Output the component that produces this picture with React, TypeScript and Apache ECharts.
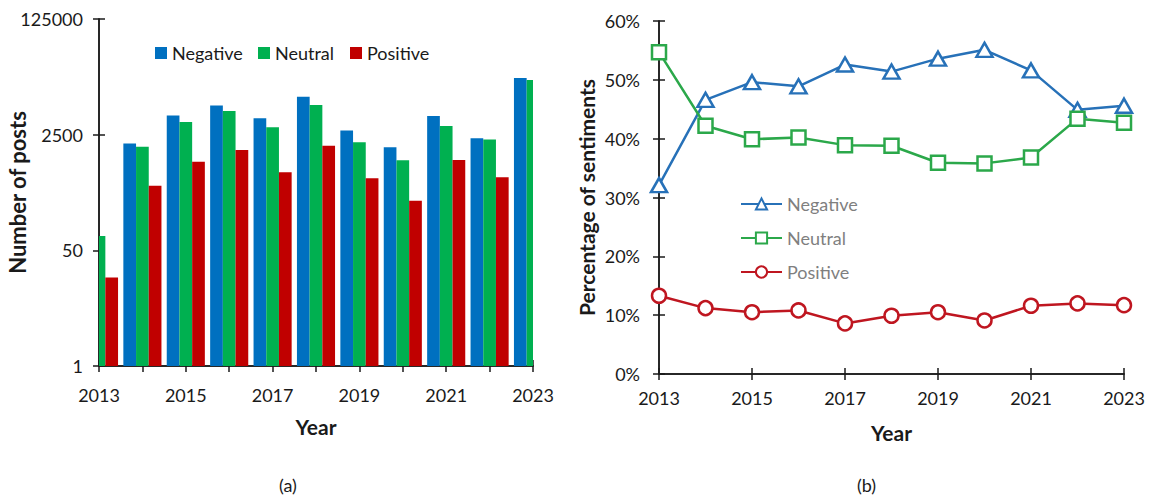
import React, { useEffect, useRef } from "react";
import * as echarts from "echarts";

// Years shown on both panels
const years = ["2013", "2014", "2015", "2016", "2017", "2018", "2019", "2020", "2021", "2022", "2023"];

// Panel (a): number of posts per sentiment (log scale, base 50)
const negativePosts = [47, 1860, 4800, 6730, 4340, 9010, 2890, 1630, 4690, 2210, 16950];
const neutralPosts = [81, 1660, 3830, 5560, 3200, 6810, 1930, 1050, 3340, 2130, 15850];
const positivePosts = [20, 444, 1000, 1490, 700, 1720, 571, 267, 1060, 590, 4350];
const postTicks = [1, 50, 2500, 125000];

// Panel (b): share of each sentiment, in percent
const negativeShare = [32.1, 46.6, 49.6, 48.9, 52.6, 51.4, 53.6, 55.1, 51.6, 44.9, 45.6];
const neutralShare = [54.7, 42.2, 39.9, 40.2, 38.9, 38.8, 35.9, 35.8, 36.8, 43.4, 42.7];
const positiveShare = [13.3, 11.2, 10.5, 10.8, 8.6, 9.9, 10.5, 9.1, 11.6, 12.0, 11.7];

const FONT = "Lato";
const INK = "#1a1a1a";
const BAR_W = 12.7;

const barColors = { Negative: "#0070C0", Neutral: "#00B050", Positive: "#C00000" };
const lineColors = { Negative: "#2771B8", Neutral: "#2BA84A", Positive: "#BF1620" };

function withTicks(base: any, inside: boolean, interval: number) {
  return {
    ...base,
    axisTick: {
      show: true,
      inside,
      length: 6,
      interval,
      alignWithLabel: true,
      lineStyle: { color: INK, width: 1.5 },
    },
  };
}

// Bars centred on each year tick; groups at the ends are cut by the plot edge
function barSeries(name: "Negative" | "Neutral" | "Positive", values: number[], slot: number) {
  return {
    name,
    type: "custom",
    xAxisIndex: 0,
    yAxisIndex: 0,
    data: values.map((v, i) => [i, v]),
    encode: { x: 0, y: 1 },
    itemStyle: { color: barColors[name] },
    renderItem: (params: any, api: any) => {
      const idx = api.value(0);
      const val = api.value(1);
      const top = api.coord([idx, val]);
      const base = api.coord([idx, 1]);
      const rect = {
        x: top[0] + (slot - 1.5) * BAR_W,
        y: top[1],
        width: BAR_W,
        height: base[1] - top[1],
      };
      const cs = params.coordSys;
      const clipped = echarts.graphic.clipRectByRect(rect, {
        x: cs.x,
        y: cs.y,
        width: cs.width,
        height: cs.height,
      });
      if (!clipped) return null;
      return { type: "rect", shape: clipped, style: { fill: barColors[name] } };
    },
  };
}

function buildBarOption(): any {
  const xBase = {
    type: "category",
    data: years,
    boundaryGap: false,
    gridIndex: 0,
    position: "bottom",
    axisLine: { show: true, lineStyle: { color: INK, width: 1.5 } },
    splitLine: { show: false },
  };
  const yBase = {
    type: "log",
    logBase: 50,
    min: 1,
    max: 125000,
    gridIndex: 0,
    position: "left",
    axisLine: { show: true, lineStyle: { color: INK, width: 1.5 } },
    splitLine: { show: false },
  };
  const legendItem = (name: string, left: number) => ({
    data: [name],
    left,
    top: 44,
    padding: 0,
    itemWidth: 12,
    itemHeight: 12,
    icon: "rect",
    selectedMode: false,
    textStyle: { fontFamily: FONT, fontSize: 18, color: INK },
  });
  return {
    animation: false,
    grid: { left: 99, top: 19, width: 434, height: 347, containLabel: false, outerBoundsMode: "none" },
    legend: [legendItem("Negative", 155), legendItem("Neutral", 258), legendItem("Positive", 350)],
    xAxis: [
      withTicks(
        {
          ...xBase,
          name: "Year",
          nameLocation: "middle",
          nameGap: 50,
          nameMoveOverlap: false,
          nameTextStyle: { fontFamily: FONT, fontSize: 21, fontWeight: "bold", color: INK },
          axisLabel: { interval: 1, margin: 20, fontFamily: FONT, fontSize: 18, color: INK },
        },
        false,
        0
      ),
      withTicks({ ...xBase, axisLabel: { show: false } }, true, 0),
    ],
    yAxis: [
      withTicks(
        {
          ...yBase,
          name: "Number of posts",
          nameLocation: "middle",
          nameGap: 71,
          nameMoveOverlap: false,
          nameTextStyle: { fontFamily: FONT, fontSize: 22, fontWeight: "bold", color: INK },
          axisLabel: {
            margin: 16,
            fontFamily: FONT,
            fontSize: 18,
            color: INK,
            formatter: (v: number) => {
              const r = Math.round(v);
              return postTicks.includes(r) ? String(r) : "";
            },
          },
        },
        false,
        0
      ),
      withTicks({ ...yBase, axisLabel: { show: false } }, true, 0),
    ],
    series: [
      barSeries("Negative", negativePosts, 0),
      barSeries("Neutral", neutralPosts, 1),
      barSeries("Positive", positivePosts, 2),
    ],
    graphic: [
      {
        type: "text",
        left: 279,
        top: 476,
        style: { text: "(a)", fontFamily: FONT, fontSize: 18, fill: INK },
      },
    ],
  };
}

function buildLineOption(): any {
  const xBase = {
    type: "category",
    data: years,
    boundaryGap: false,
    gridIndex: 0,
    position: "bottom",
    axisLine: { show: true, lineStyle: { color: INK, width: 1.5 } },
    splitLine: { show: false },
  };
  const yBase = {
    type: "value",
    min: 0,
    max: 60,
    interval: 10,
    gridIndex: 0,
    position: "left",
    axisLine: { show: true, lineStyle: { color: INK, width: 1.5 } },
    splitLine: { show: false },
  };
  const line = (
    name: "Negative" | "Neutral" | "Positive",
    values: number[],
    symbol: string,
    symbolSize: number | number[]
  ) => ({
    name,
    type: "line",
    data: values,
    symbol,
    symbolSize,
    showAllSymbol: true,
    color: lineColors[name],
    lineStyle: { color: lineColors[name], width: 2.5 },
    itemStyle: { color: "#ffffff", borderColor: lineColors[name], borderWidth: 2.5 },
  });
  return {
    animation: false,
    grid: { left: 89, top: 21, width: 465, height: 353, containLabel: false, outerBoundsMode: "none" },
    legend: {
      orient: "vertical",
      left: 170,
      top: 195,
      padding: 0,
      itemWidth: 41,
      itemHeight: 14,
      itemGap: 16,
      selectedMode: false,
      data: ["Negative", "Neutral", "Positive"],
      textStyle: { fontFamily: FONT, fontSize: 18, color: "#7F7F7F" },
    },
    xAxis: [
      withTicks(
        {
          ...xBase,
          name: "Year",
          nameLocation: "middle",
          nameGap: 48,
          nameMoveOverlap: false,
          nameTextStyle: { fontFamily: FONT, fontSize: 21, fontWeight: "bold", color: INK },
          axisLabel: { interval: 1, margin: 15, fontFamily: FONT, fontSize: 18, color: INK },
        },
        false,
        1
      ),
      withTicks({ ...xBase, axisLabel: { show: false } }, true, 1),
    ],
    yAxis: [
      withTicks(
        {
          ...yBase,
          name: "Percentage of sentiments",
          nameLocation: "middle",
          nameGap: 62,
          nameMoveOverlap: false,
          nameTextStyle: { fontFamily: FONT, fontSize: 21, fontWeight: "bold", color: INK },
          axisLabel: { margin: 19, fontFamily: FONT, fontSize: 18, color: INK, formatter: "{value}%" },
        },
        false,
        0
      ),
      withTicks({ ...yBase, axisLabel: { show: false } }, true, 0),
    ],
    series: [
      line("Negative", negativeShare, "triangle", [16, 14]),
      line("Neutral", neutralShare, "rect", 14),
      line("Positive", positiveShare, "circle", 14),
    ],
    graphic: [
      {
        type: "text",
        left: 287,
        top: 476,
        style: { text: "(b)", fontFamily: FONT, fontSize: 18, fill: INK },
      },
    ],
  };
}

function Panel({ left, width, build }: { left: number; width: number; build: () => any }) {
  const ref = useRef<HTMLDivElement>(null);
  useEffect(() => {
    if (!ref.current) return;
    const chart = echarts.init(ref.current, undefined, { renderer: "svg" });
    chart.setOption(build());
    return () => chart.dispose();
  }, [build]);
  return <div ref={ref} style={{ position: "absolute", left, top: 0, width, height: 498 }} />;
}

export default function App() {
  return (
    <div style={{ position: "absolute", left: 0, top: 0, width: 1159, height: 498, background: "#fff" }}>
      <Panel left={0} width={570} build={buildBarOption} />
      <Panel left={570} width={589} build={buildLineOption} />
    </div>
  );
}
